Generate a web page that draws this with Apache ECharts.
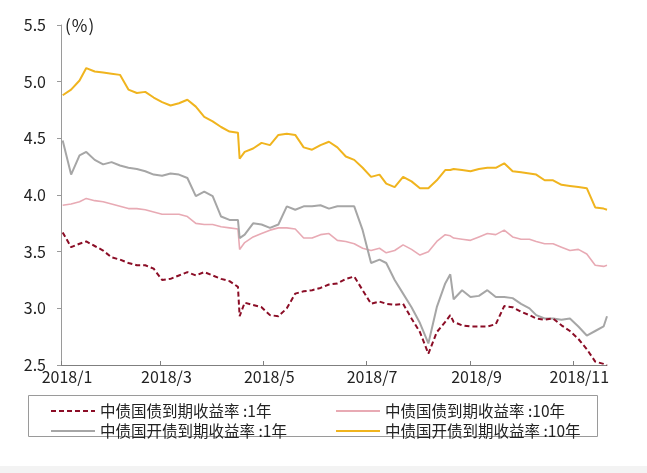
<!DOCTYPE html>
<html>
<head>
<meta charset="utf-8">
<script src="https://cdn.jsdelivr.net/npm/echarts@6/dist/echarts.min.js"></script>
<style>
  html, body { margin: 0; padding: 0; background: #fff; }
  #chart { width: 647px; height: 473px; }
</style>
</head>
<body>
<div id="chart"></div>
<script>
// 日期（约每5天取一个点）
var dates = [
  '2018-01-02','2018-01-07','2018-01-12','2018-01-16','2018-01-21','2018-01-26','2018-01-31',
  '2018-02-05','2018-02-10','2018-02-15','2018-02-20','2018-02-25',
  '2018-03-02','2018-03-07','2018-03-12','2018-03-17','2018-03-22','2018-03-27',
  '2018-04-01','2018-04-06','2018-04-11','2018-04-16','2018-04-17','2018-04-20','2018-04-25','2018-04-30',
  '2018-05-05','2018-05-10','2018-05-15','2018-05-20','2018-05-25','2018-05-30',
  '2018-06-04','2018-06-09','2018-06-14','2018-06-19','2018-06-24','2018-06-29',
  '2018-07-04','2018-07-09','2018-07-13','2018-07-18','2018-07-23','2018-07-28',
  '2018-08-02','2018-08-07','2018-08-12','2018-08-17','2018-08-20','2018-08-22','2018-08-27',
  '2018-09-01','2018-09-06','2018-09-11','2018-09-16','2018-09-21','2018-09-26',
  '2018-10-01','2018-10-06','2018-10-10','2018-10-15','2018-10-20','2018-10-25','2018-10-30',
  '2018-11-04','2018-11-09','2018-11-14','2018-11-19','2018-11-21'
];

// 中债国债到期收益率:1年
var cgb1y = [
  3.67,3.54,3.57,3.59,3.55,3.51,3.45,
  3.43,3.40,3.38,3.38,3.35,
  3.25,3.26,3.29,3.32,3.29,3.32,
  3.29,3.26,3.24,3.19,2.93,3.05,3.03,3.01,
  2.94,2.93,3.00,3.13,3.15,3.16,
  3.18,3.21,3.22,3.26,3.28,3.16,
  3.04,3.06,3.04,3.03,3.04,2.91,
  2.79,2.60,2.79,2.88,2.94,2.88,2.85,
  2.84,2.84,2.84,2.86,3.02,3.01,
  2.97,2.94,2.91,2.90,2.91,2.85,2.80,
  2.73,2.64,2.53,2.51,2.50
];
// 中债国债到期收益率:10年
var cgb10y = [
  3.91,3.92,3.94,3.97,3.95,3.94,3.92,
  3.90,3.88,3.88,3.87,3.85,
  3.83,3.83,3.83,3.81,3.75,3.74,
  3.74,3.72,3.71,3.70,3.52,3.58,3.63,3.66,
  3.69,3.71,3.71,3.70,3.62,3.62,
  3.65,3.66,3.60,3.59,3.57,3.53,
  3.51,3.53,3.49,3.51,3.56,3.52,
  3.47,3.50,3.59,3.65,3.64,3.62,3.61,
  3.60,3.63,3.66,3.65,3.69,3.63,
  3.61,3.61,3.59,3.57,3.57,3.54,3.51,
  3.52,3.48,3.38,3.37,3.38
];
// 中债国开债到期收益率:1年
var cdb1y = [
  4.48,4.18,4.35,4.38,4.31,4.27,4.29,
  4.26,4.24,4.23,4.21,4.18,
  4.17,4.19,4.18,4.15,3.99,4.03,
  3.99,3.81,3.78,3.78,3.62,3.65,3.75,3.74,
  3.71,3.74,3.90,3.87,3.90,3.90,
  3.91,3.88,3.90,3.90,3.90,3.69,
  3.40,3.43,3.40,3.25,3.13,3.01,
  2.87,2.69,3.01,3.22,3.30,3.08,3.16,
  3.10,3.11,3.16,3.10,3.10,3.09,
  3.04,3.00,2.94,2.91,2.91,2.90,2.91,
  2.84,2.76,2.80,2.84,2.93
];
// 中债国开债到期收益率:10年
var cdb10y = [
  4.88,4.93,5.01,5.12,5.09,5.08,5.07,
  5.06,4.93,4.90,4.91,4.86,
  4.82,4.79,4.81,4.84,4.78,4.69,
  4.65,4.60,4.56,4.55,4.32,4.38,4.41,4.46,
  4.44,4.53,4.54,4.53,4.42,4.40,
  4.44,4.47,4.42,4.34,4.31,4.24,
  4.16,4.18,4.10,4.07,4.16,4.12,
  4.06,4.06,4.13,4.22,4.22,4.23,4.22,
  4.21,4.23,4.24,4.24,4.28,4.21,
  4.20,4.19,4.18,4.13,4.13,4.09,4.08,
  4.07,4.06,3.89,3.88,3.87
];

var seriesNames = ['中债国债到期收益率 :1年', '中债国债到期收益率 :10年', '中债国开债到期收益率 :1年', '中债国开债到期收益率 :10年'];
var tickDates = ['2018-01-01', '2018-03-01', '2018-05-01', '2018-07-01', '2018-09-01', '2018-11-01'];
var tickLabels = ['2018/1', '2018/3', '2018/5', '2018/7', '2018/9', '2018/11'];
var xStart = '2018-01-01';
var xEnd = '2018-11-21';

function toTime(d) {
  return echarts.time.parse(d).getTime();
}
function pairs(vals) {
  return dates.map(function (d, i) { return [toTime(d), vals[i]]; });
}

var tickTimes = tickDates.map(toTime);
var font = '"Noto Sans CJK SC", "Noto Sans", sans-serif';

// 图例公共样式
function legendAt(left, names) {
  return {
    data: names,
    orient: 'vertical',
    left: left,
    top: 397,
    itemWidth: 44,
    itemHeight: 14,
    itemGap: 2,
    itemStyle: { opacity: 0 },
    textStyle: { fontSize: 15.5, color: '#222', fontFamily: font, lineHeight: 18 }
  };
}

var myChart = echarts.init(document.getElementById('chart'));
var option = {
  animation: false,
  backgroundColor: '#fff',
  textStyle: { fontFamily: font },
  grid: { left: 61, right: 40, top: 25, bottom: 108 },
  xAxis: {
    type: 'value',
    min: toTime(xStart),
    max: toTime(xEnd),
    splitLine: { show: false },
    axisLine: { lineStyle: { color: '#7f7f7f', width: 1 } },
    axisTick: { show: true, inside: true, length: 4, customValues: tickTimes, lineStyle: { color: '#7f7f7f' } },
    axisLabel: {
      customValues: tickTimes,
      color: '#222',
      fontSize: 16,
      fontFamily: font,
      margin: 4,
      padding: [0, 0, 0, 12],
      formatter: function (v) {
        var i = tickTimes.indexOf(v);
        return i >= 0 ? tickLabels[i] : '';
      }
    }
  },
  yAxis: {
    type: 'value',
    min: 2.5,
    max: 5.5,
    interval: 0.5,
    splitLine: { show: false },
    axisLine: { show: true, lineStyle: { color: '#9a9a9a', width: 1 } },
    axisTick: { show: true, length: 4, lineStyle: { color: '#9a9a9a' } },
    axisLabel: {
      color: '#222',
      fontSize: 16,
      fontFamily: font,
      margin: 15,
      formatter: function (v) { return v.toFixed(1); }
    }
  },
  legend: [
    legendAt(45, [seriesNames[0], seriesNames[2]]),
    legendAt(330, [seriesNames[1], seriesNames[3]])
  ],
  graphic: [
    {
      type: 'text',
      left: 65,
      top: 17,
      style: { text: '(\u200a%\u200a)', fontSize: 17, fill: '#222', fontFamily: font }
    },
    {
      type: 'rect',
      shape: { x: 28.5, y: 395.5, width: 569, height: 41 },
      style: { fill: 'none', stroke: '#9a9a9a', lineWidth: 1 }
    },
    {
      type: 'rect',
      shape: { x: 0, y: 466, width: 647, height: 7 },
      style: { fill: '#f3f3f3' }
    }
  ],
  series: [
    {
      name: seriesNames[0],
      type: 'line',
      symbol: 'none',
      data: pairs(cgb1y),
      lineStyle: { color: '#8b0d26', width: 2, type: [5, 3] },
      itemStyle: { color: '#8b0d26' },
      z: 5
    },
    {
      name: seriesNames[1],
      type: 'line',
      symbol: 'none',
      data: pairs(cgb10y),
      lineStyle: { color: '#e8aab4', width: 1.6 },
      itemStyle: { color: '#e8aab4' }
    },
    {
      name: seriesNames[2],
      type: 'line',
      symbol: 'none',
      data: pairs(cdb1y),
      lineStyle: { color: '#a6a6a6', width: 2 },
      itemStyle: { color: '#a6a6a6' }
    },
    {
      name: seriesNames[3],
      type: 'line',
      symbol: 'none',
      data: pairs(cdb10y),
      lineStyle: { color: '#f0b41e', width: 2 },
      itemStyle: { color: '#f0b41e' }
    }
  ]
};
myChart.setOption(option);
</script>
</body>
</html>
